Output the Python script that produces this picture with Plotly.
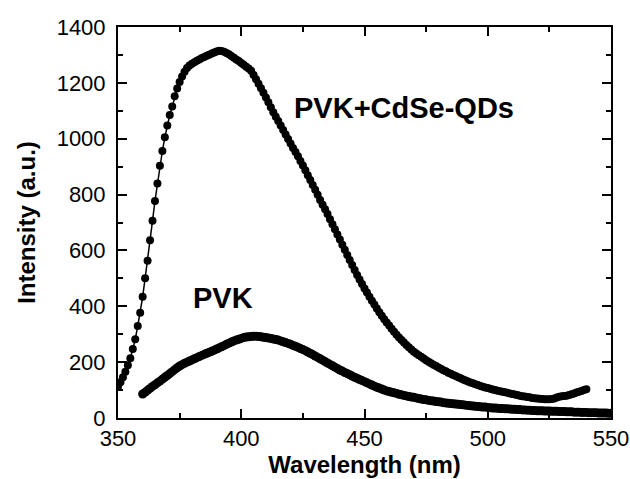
import plotly.graph_objects as go

# PVK+CdSe-QDs photoluminescence (1 nm steps, 350-540 nm)
cdse_start = 350
cdse_intensity = [
    112, 128, 146, 166, 189, 214, 247, 282, 329, 377,
    434, 500, 563, 636, 706, 777, 840, 903, 956, 1005,
    1047, 1085, 1115, 1152, 1180, 1203, 1223, 1240, 1253, 1262,
    1268, 1274, 1279, 1284, 1289, 1293, 1297, 1301, 1305, 1309,
    1312, 1315, 1314, 1311, 1307, 1302, 1296, 1290, 1284, 1278,
    1271, 1265, 1258, 1251, 1243, 1228, 1213, 1197, 1181, 1165,
    1148, 1131, 1113, 1095, 1079, 1063, 1047, 1031, 1015, 999,
    983, 967, 952, 937, 920, 904, 887, 869, 852, 834,
    817, 799, 781, 764, 747, 730, 712, 694, 676, 657,
    639, 620, 602, 584, 566, 548, 530, 512, 496, 480,
    464, 449, 434, 420, 406, 392, 379, 366, 354, 342,
    331, 320, 309, 298, 288, 279, 270, 261, 253, 245,
    237, 231, 225, 219, 213, 207, 201, 196, 191, 186,
    181, 176, 171, 167, 162, 158, 154, 150, 146, 142,
    138, 134, 131, 127, 124, 121, 118, 115, 112, 109,
    107, 105, 102, 100, 98, 96, 94, 92, 90, 88,
    86, 84, 82, 80, 78, 77, 75, 74, 72, 71,
    70, 69, 68, 67, 67, 67, 68, 70, 73, 76,
    78, 79, 80, 82, 85, 88, 91, 94, 97, 100,
    103,
]
cdse_wavelength = [cdse_start + i for i in range(len(cdse_intensity))]

# PVK photoluminescence (1 nm steps, 360-550 nm)
pvk_start = 360
pvk_intensity = [
    86, 92, 99, 106, 113, 119, 126, 132, 139, 146,
    152, 159, 166, 173, 180, 186, 191, 196, 200, 204,
    208, 212, 216, 220, 224, 228, 232, 235, 239, 243,
    247, 251, 255, 259, 264, 268, 272, 276, 279, 282,
    285, 288, 290, 291, 292, 293, 293, 292, 291, 289,
    288, 286, 285, 283, 281, 279, 276, 273, 270, 267,
    264, 260, 257, 253, 249, 245, 241, 236, 232, 227,
    222, 217, 212, 207, 202, 197, 192, 187, 182, 177,
    172, 168, 163, 159, 155, 150, 146, 142, 138, 134,
    130, 126, 122, 118, 114, 110, 107, 104, 100, 97,
    95, 92, 90, 88, 85, 83, 81, 79, 77, 75,
    74, 72, 70, 68, 66, 65, 63, 62, 61, 59,
    58, 57, 55, 54, 53, 52, 51, 50, 49, 48,
    47, 46, 45, 44, 43, 42, 41, 40, 39, 39,
    38, 37, 36, 36, 35, 34, 34, 33, 33, 32,
    31, 31, 30, 30, 29, 29, 28, 28, 27, 27,
    26, 26, 26, 25, 25, 25, 24, 24, 24, 23,
    23, 23, 22, 22, 22, 21, 21, 21, 20, 20,
    20, 19, 19, 19, 19, 18, 18, 18, 18, 17,
    17,
]
pvk_wavelength = [pvk_start + i for i in range(len(pvk_intensity))]

x_ticks = [350, 400, 450, 500, 550]
y_ticks = [0, 200, 400, 600, 800, 1000, 1200, 1400]

FONT = "Arial, 'Liberation Sans', sans-serif"

fig = go.Figure()
fig.add_trace(go.Scatter(
    x=cdse_wavelength, y=cdse_intensity, mode="lines+markers",
    line=dict(color="black", width=1.5),
    marker=dict(color="black", size=8),
    name="PVK+CdSe-QDs", showlegend=False,
))
fig.add_trace(go.Scatter(
    x=pvk_wavelength, y=pvk_intensity, mode="lines+markers",
    line=dict(color="black", width=2),
    marker=dict(color="black", size=9),
    name="PVK", showlegend=False,
))

fig.add_annotation(x=466, y=1110, text="<b>PVK+CdSe-QDs</b>", showarrow=False,
                   font=dict(family=FONT, size=29, color="black"))
fig.add_annotation(x=392.5, y=430, text="<b>PVK</b>", showarrow=False,
                   font=dict(family=FONT, size=29, color="black"))

axis_common = dict(
    showline=True, linecolor="black", linewidth=2, mirror="ticks",
    ticks="inside", ticklen=9, tickwidth=1.5, tickcolor="black",
    showgrid=False, zeroline=False,
    tickfont=dict(family=FONT, size=22, color="black"),
)

fig.update_xaxes(
    range=[350, 550], tickvals=x_ticks,
    minor=dict(ticks="inside", ticklen=5, tickwidth=1.5, tickcolor="black", dtick=25, showgrid=False),
    title=dict(text="<b>Wavelength (nm)</b>", font=dict(family=FONT, size=24, color="black"), standoff=6),
    **axis_common,
)
fig.update_yaxes(
    range=[0, 1400], tickvals=y_ticks,
    minor=dict(ticks="inside", ticklen=5, tickwidth=1.5, tickcolor="black", dtick=100, showgrid=False),
    title=dict(text="<b>Intensity (a.u.)</b>", font=dict(family=FONT, size=24, color="black"), standoff=14),
    ticklabelstandoff=6,
    **axis_common,
)

fig.update_layout(
    width=630, height=479,
    margin=dict(l=118, r=19, t=27, b=61, autoexpand=False),
    paper_bgcolor="white", plot_bgcolor="white",
)

fig.write_html("out.html")
